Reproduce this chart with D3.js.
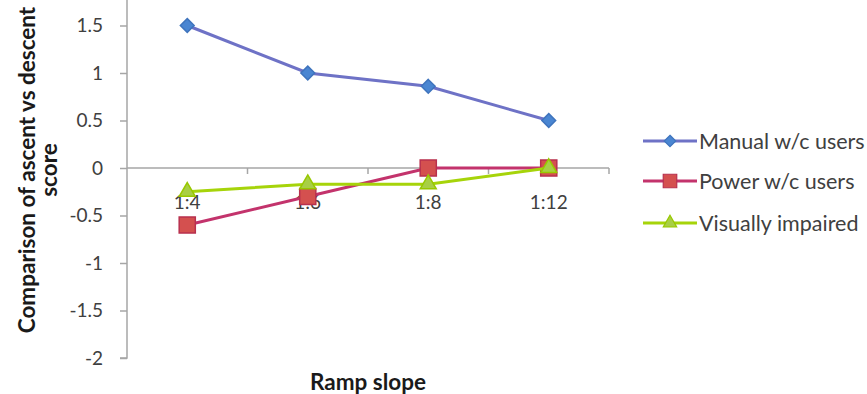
<!DOCTYPE html>
<html><head><meta charset="utf-8">
<script src="https://cdn.jsdelivr.net/npm/d3@7"></script>
<style>
html,body{margin:0;padding:0;background:#fff;overflow:hidden}
svg{display:block}
text{font-family:Lato,"Open Sans",sans-serif}
</style></head>
<body>
<script>
const categories = ["1:4", "1:6", "1:8", "1:12"];
const manualWc = [1.5, 1.0, 0.86, 0.5];
const powerWc = [-0.6, -0.3, 0, 0];
const visuallyImpaired = [-0.25, -0.17, -0.17, 0];
const seriesNames = ["Manual w/c users", "Power w/c users", "Visually impaired"];
const yTicks = [-2, -1.5, -1, -0.5, 0, 0.5, 1, 1.5];
const xTitle = "Ramp slope";
const yTitle = ["Comparison of ascent vs descent", "score"];

const W = 867, H = 394;
const svg = d3.select("body").append("svg").attr("width", W).attr("height", H);

const x = d3.scaleBand().domain(categories).range([127, 609]);
const y = d3.scaleLinear().domain([-2, 2]).range([358, -22]);
const axisColor = "#a6a6a6";
const labelColor = "#404040";

// Y axis
const yAxis = svg.append("g").attr("transform", "translate(127,0)")
  .call(d3.axisLeft(y).tickValues(yTicks).tickSize(7).tickPadding(17).tickFormat(d => String(d)));
yAxis.select(".domain").attr("stroke", axisColor).attr("stroke-width", 1.5)
  .attr("d", `M-7,${y(-2)}H0V0`);
yAxis.selectAll(".tick line").attr("stroke", axisColor).attr("stroke-width", 1.5);
yAxis.selectAll(".tick text").attr("fill", labelColor).style("font-size", "19px")
  .style("font-family", "Lato");

// X axis at zero
const xAxisG = svg.append("g").attr("transform", `translate(0,${y(0)})`);
xAxisG.append("line").attr("x1", 127).attr("x2", 609).attr("stroke", axisColor).attr("stroke-width", 1.5);
const bounds = categories.map(c => x(c) + x.bandwidth());
xAxisG.selectAll("line.tk").data(bounds).join("line").attr("class", "tk")
  .attr("x1", d => d).attr("x2", d => d).attr("y1", 0).attr("y2", 6)
  .attr("stroke", axisColor).attr("stroke-width", 1.5);
xAxisG.selectAll("text.xl").data(categories).join("text").attr("class", "xl")
  .attr("x", d => x(d) + x.bandwidth() / 2).attr("y", 41)
  .attr("text-anchor", "middle").attr("fill", labelColor)
  .style("font-size", "19px").text(d => d);

// Titles
svg.append("text").attr("x", 368).attr("y", 390).attr("text-anchor", "middle")
  .style("font-size", "22.5px").style("font-weight", "bold").attr("fill", "#1a1a1a").text(xTitle);
svg.append("text").attr("transform", "translate(35,170) rotate(-90)").attr("text-anchor", "middle")
  .style("font-size", "22.5px").style("font-weight", "bold").attr("fill", "#1a1a1a").text(yTitle[0]);
svg.append("text").attr("transform", "translate(57,170) rotate(-90)").attr("text-anchor", "middle")
  .style("font-size", "22.5px").style("font-weight", "bold").attr("fill", "#1a1a1a").text(yTitle[1]);

const diamond = {draw(ctx, size) { const r = Math.sqrt(size / 2); ctx.moveTo(0, -r); ctx.lineTo(r, 0); ctx.lineTo(0, r); ctx.lineTo(-r, 0); ctx.closePath(); }};

const series = [
  {name: seriesNames[0], values: manualWc, line: "#6e72c6", fill: "#4a86d2", stroke: "#3f74bd", shape: diamond, size: 95},
  {name: seriesNames[1], values: powerWc, line: "#c3336c", fill: "#d4504f", stroke: "#b8304e", shape: d3.symbolSquare, size: 260},
  {name: seriesNames[2], values: visuallyImpaired, line: "#a6d40a", fill: "#a8cf45", stroke: "#98c800", shape: d3.symbolTriangle, size: 110}
];

const cx = c => x(c) + x.bandwidth() / 2;
const lineGen = d3.line().x(d => cx(d.c)).y(d => y(d.v));

series.forEach(s => {
  const pts = categories.map((c, i) => ({c, v: s.values[i]}));
  svg.append("path").datum(pts).attr("d", lineGen).attr("fill", "none")
    .attr("stroke", s.line).attr("stroke-width", 3);
  svg.selectAll(null).data(pts).join("path")
    .attr("transform", d => `translate(${cx(d.c)},${y(d.v)})`)
    .attr("d", d3.symbol().type(s.shape).size(s.size))
    .attr("fill", s.fill).attr("stroke", s.stroke).attr("stroke-width", 1.5);
});

// Legend
const legY = [141, 181, 223];
series.forEach((s, i) => {
  const g = svg.append("g").attr("transform", `translate(0,${legY[i]})`);
  g.append("line").attr("x1", 643).attr("x2", 697).attr("stroke", s.line).attr("stroke-width", 3);
  g.append("path").attr("transform", "translate(670,0)")
    .attr("d", d3.symbol().type(s.shape).size(s.size * 0.7))
    .attr("fill", s.fill).attr("stroke", s.stroke).attr("stroke-width", 1.2);
  g.append("text").attr("x", 699).attr("y", 8).attr("fill", labelColor)
    .style("font-size", "21.5px").text(s.name);
});
</script>
</body></html>
